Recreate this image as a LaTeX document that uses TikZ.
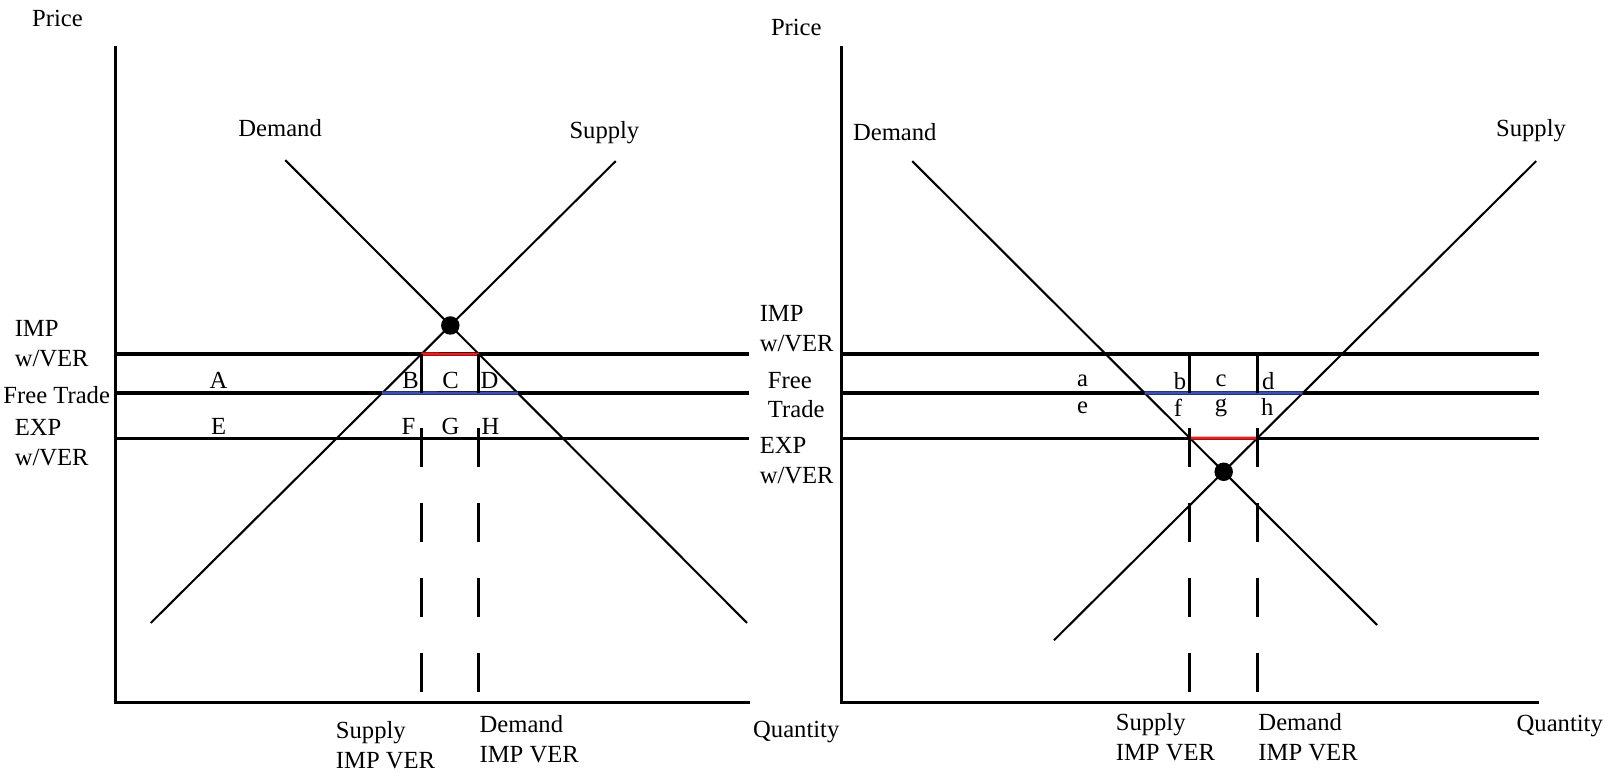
\documentclass[tikz,border=0pt]{standalone}
\usepackage{fontspec}
\setmainfont{Liberation Serif}
\usetikzlibrary{positioning,calc}

\definecolor{ftblue}{RGB}{60,80,175}
\definecolor{verred}{RGB}{235,30,30}

\tikzset{
  axis/.style={line width=1.5pt},
  level/.style={line width=1.5pt},
  curve/.style={line width=1pt},
  qline/.style={line width=1.5pt, dash pattern=on 19pt off 17.5pt},
  eq/.style={circle, fill=black, inner sep=0pt, minimum size=9pt},
  lab/.style={align=left, anchor=west, inner sep=0pt},
}

\begin{document}
\begin{tikzpicture}[x=0.5pt, y=-0.5pt, font=\fontsize{12}{14.5}\selectfont]
  \useasboundingbox (0,0) rectangle (1568,752);

	% left panel: importer
	\coordinate (topL) at (113,45);
	\coordinate (oL) at (113,685);
	\coordinate (endL) at (731,685);
	\draw[axis] (topL) -- (oL) -- (endL);
	\foreach \lev/\y in {imp/345, ft/383, exp/427}{
		\coordinate (\lev L0) at (113,\y);
		\coordinate (\lev L1) at (730,\y);
		\draw[level] (\lev L0) -- (\lev L1);
	}
	\coordinate (dtopL) at (278,156);
	\coordinate (dbotL) at (728,607);
	\coordinate (stopL) at (600,157);
	\coordinate (sbotL) at (147,607);
	\draw[curve] (dtopL) -- (dbotL);
	\draw[curve] (sbotL) -- (stopL);

	\coordinate (sImpL) at (intersection of sbotL--stopL and impL0--impL1);
	\coordinate (dImpL) at (intersection of dtopL--dbotL and impL0--impL1);
	\coordinate (sFtL) at (intersection of sbotL--stopL and ftL0--ftL1);
	\coordinate (dFtL) at (intersection of dtopL--dbotL and ftL0--ftL1);
	\draw[level, ftblue] (sFtL) -- (dFtL);
	\draw[level, verred] (sImpL) -- (dImpL);
	\draw[level] (sImpL) -- (sImpL |- ftL0);
	\draw[level] (dImpL) -- (dImpL |- ftL0);
	\draw[qline] (sImpL |- 0,417) -- (sImpL |- 0,675);
	\draw[qline] (dImpL |- 0,417) -- (dImpL |- 0,675);
	\node[eq] (eqL) at (intersection of dtopL--dbotL and sbotL--stopL) {};

	\node (priceL) at (56,18) {Price};
	\node (demL) at (273,125) {Demand};
	\node (supL) at (589,129) {Supply};
	\node[lab] (impLab) at (14,335) {IMP\\w/VER};
	\node[lab] (ftLab) at (3,385) {Free Trade};
	\node[lab] (expLab) at (14,431) {EXP\\w/VER};
	\node[lab] (sverL) at (327,726) {Supply\\IMP VER};
	\node[lab] (dverL) at (467,720) {Demand\\IMP VER};
	\node (qL) at (776,713) {Quantity};
	\foreach \name/\x/\y in {A/213/371, B/400/371, C/439/371, D/477/371,
	                         E/213/416, F/398/416, G/439/416, H/478/416}{
		\node (l\name) at (\x,\y) {\name};
	}

	% right panel: exporter
	\coordinate (topR) at (820,45);
	\coordinate (oR) at (820,685);
	\coordinate (endR) at (1500,685);
	\draw[axis] (topR) -- (oR) -- (endR);
	\foreach \lev/\y in {imp/345, ft/383, exp/427}{
		\coordinate (\lev R0) at (820,\y);
		\coordinate (\lev R1) at (1500,\y);
		\draw[level] (\lev R0) -- (\lev R1);
	}
	\coordinate (dtopR) at (889,157);
	\coordinate (dbotR) at (1342,609);
	\coordinate (stopR) at (1497,157);
	\coordinate (sbotR) at (1027,624);
	\draw[curve] (dtopR) -- (dbotR);
	\draw[curve] (sbotR) -- (stopR);

	\coordinate (dExpR) at (intersection of dtopR--dbotR and expR0--expR1);
	\coordinate (sExpR) at (intersection of sbotR--stopR and expR0--expR1);
	\coordinate (dFtR) at (intersection of dtopR--dbotR and ftR0--ftR1);
	\coordinate (sFtR) at (intersection of sbotR--stopR and ftR0--ftR1);
	\draw[level, ftblue] (dFtR) -- (sFtR);
	\draw[level, verred] (dExpR) -- (sExpR);
	\draw[level] (dExpR |- impR0) -- (dExpR |- ftR0);
	\draw[level] (sExpR |- impR0) -- (sExpR |- ftR0);
	\draw[qline] (dExpR |- 0,417) -- (dExpR |- 0,675);
	\draw[qline] (sExpR |- 0,417) -- (sExpR |- 0,675);
	\node[eq] (eqR) at (intersection of dtopR--dbotR and sbotR--stopR) {};

	\node (priceR) at (776,27) {Price};
	\node (demR) at (872,129) {Demand};
	\node (supR) at (1492,127) {Supply};
	\node[lab] (impLabR) at (740,320) {IMP\\w/VER};
	\node[lab] (ftLabR) at (748,385) {Free\\Trade};
	\node[lab] (expLabR) at (740,449) {EXP\\w/VER};
	\node[lab] (sverR) at (1087,718) {Supply\\IMP VER};
	\node[lab] (dverR) at (1226,718) {Demand\\IMP VER};
	\node (qR) at (1520,707) {Quantity};
	\foreach \name/\x/\y in {a/1055/371, b/1150/371, c/1190/371, d/1236/371,
	                         e/1055/397, f/1148/397, g/1190/397, h/1235/397}{
		\node (r\name) at (\x,\y) {\name};
	}

\end{tikzpicture}
\end{document}
